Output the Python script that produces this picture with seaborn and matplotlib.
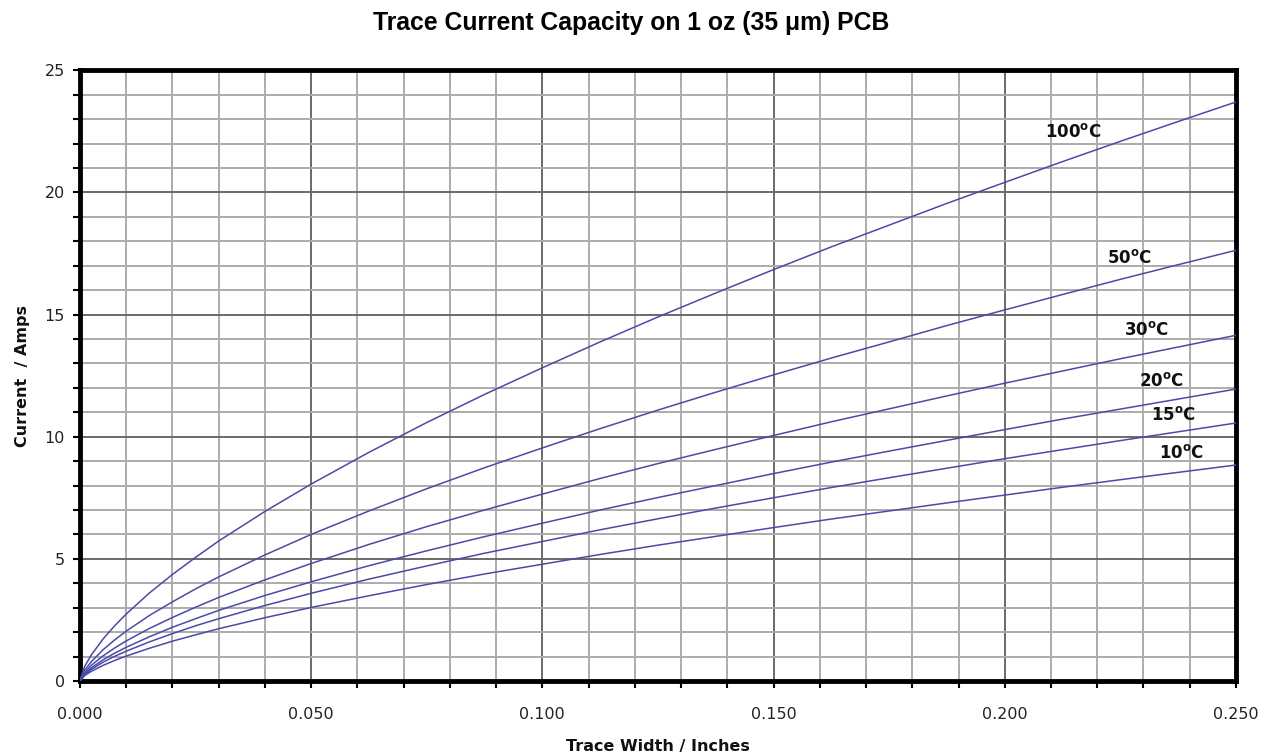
import pandas as pd
import numpy as np
import matplotlib.pyplot as plt
import seaborn as sns
from matplotlib.ticker import MultipleLocator, FormatStrFormatter

# trace width (inches) and current (A)
width = [0, 0.001, 0.0025, 0.005, 0.0075, 0.01, 0.015, 0.02, 0.025, 0.03, 0.04, 0.05,
         0.0625, 0.075, 0.0875, 0.1, 0.1125, 0.125, 0.1375, 0.15, 0.1625, 0.175,
         0.1875, 0.2, 0.2125, 0.225, 0.2375, 0.25]
i_100 = [0, 0.59, 1.08, 1.72, 2.26, 2.74, 3.60, 4.36, 5.06, 5.73, 6.94, 8.06, 9.36, 10.58,
         11.73, 12.82, 13.88, 14.90, 15.88, 16.84, 17.77, 18.66, 19.55, 20.41, 21.26, 22.09,
         22.90, 23.70]
i_50 = [0, 0.44, 0.80, 1.28, 1.68, 2.04, 2.68, 3.24, 3.77, 4.26, 5.16, 6.00, 6.96, 7.87,
        8.73, 9.54, 10.33, 11.09, 11.82, 12.53, 13.22, 13.88, 14.55, 15.19, 15.82, 16.44,
        17.04, 17.63]
i_30 = [0, 0.35, 0.65, 1.03, 1.35, 1.64, 2.15, 2.60, 3.02, 3.42, 4.14, 4.81, 5.59, 6.32,
        7.00, 7.65, 8.29, 8.90, 9.48, 10.05, 10.61, 11.14, 11.67, 12.19, 12.69, 13.19,
        13.67, 14.15]
i_20 = [0, 0.30, 0.54, 0.87, 1.14, 1.38, 1.81, 2.20, 2.55, 2.89, 3.50, 4.06, 4.72, 5.33,
        5.91, 6.46, 7.00, 7.51, 8.00, 8.49, 8.96, 9.41, 9.85, 10.29, 10.72, 11.13,
        11.54, 11.95]
i_15 = [0, 0.26, 0.48, 0.77, 1.01, 1.22, 1.60, 1.94, 2.26, 2.55, 3.09, 3.59, 4.17, 4.71,
        5.23, 5.71, 6.19, 6.64, 7.08, 7.50, 7.92, 8.32, 8.71, 9.10, 9.47, 9.84,
        10.20, 10.56]
i_10 = [0, 0.22, 0.40, 0.64, 0.84, 1.02, 1.34, 1.63, 1.89, 2.14, 2.59, 3.01, 3.49, 3.95,
        4.38, 4.78, 5.18, 5.56, 5.92, 6.28, 6.63, 6.96, 7.29, 7.61, 7.93, 8.24,
        8.54, 8.84]

temps = ['100', '50', '30', '20', '15', '10']
currents = [i_100, i_50, i_30, i_20, i_15, i_10]
# label anchor points (x, y) in data units
label_pos = [(0.2087, 22.46), (0.2221, 17.3), (0.2258, 14.36),
             (0.229, 12.27), (0.2316, 10.88), (0.2333, 9.33)]

frames = []
for t, cur in zip(temps, currents):
    frames.append(pd.DataFrame({'width': width, 'current': cur, 'temp': t}))
df = pd.concat(frames, ignore_index=True)

sns.set_style('white')
plt.rcParams['font.family'] = ['DejaVu Sans']

fig = plt.figure(figsize=(12.63, 7.55), dpi=100)
ax = fig.add_axes([0.0633, 0.098, 0.9153, 0.809])

line_col = '#4a4aa8'
sns.lineplot(data=df, x='width', y='current', hue='temp', palette=[line_col] * 6,
             estimator=None, sort=False, legend=False, linewidth=1.1, ax=ax, zorder=3)

ax.set_xlim(0, 0.25)
ax.set_ylim(0, 25)
ax.xaxis.set_major_locator(MultipleLocator(0.05))
ax.xaxis.set_minor_locator(MultipleLocator(0.01))
ax.yaxis.set_major_locator(MultipleLocator(5))
ax.yaxis.set_minor_locator(MultipleLocator(1))
ax.xaxis.set_major_formatter(FormatStrFormatter('%.3f'))

ax.grid(which='minor', color='#ababab', linewidth=1.4, zorder=1)
ax.grid(which='major', color='#6a6a6a', linewidth=1.4, zorder=1)
ax.set_axisbelow(True)

for s in ax.spines.values():
    s.set_visible(True)
    s.set_linewidth(3.5)
    s.set_color('black')

ax.tick_params(which='both', direction='out', length=5, width=1.5, color='black',
               left=True, bottom=True)
ax.tick_params(which='major', labelsize=11.5, labelcolor='#222222', pad=6)
ax.tick_params(axis='x', which='major', pad=14)

for t, (lx, ly) in zip(temps, label_pos):
    ax.text(lx, ly, t + r'$^{\mathbf{o}}$C', fontsize=12, fontweight='bold',
            ha='left', va='center', color='#111111')

ax.set_xlabel('Trace Width / Inches', fontsize=11.5, fontweight='bold', labelpad=12,
              color='#111111')
ax.set_ylabel('Current  / Amps', fontsize=11.5, fontweight='bold', labelpad=10,
              color='#111111')
fig.suptitle('Trace Current Capacity on 1 oz (35 \u03bcm) PCB', x=0.5, y=0.985,
             fontsize=17.8, fontweight='bold', family='Liberation Sans', color='black')

fig.savefig('out.png', dpi=100)
